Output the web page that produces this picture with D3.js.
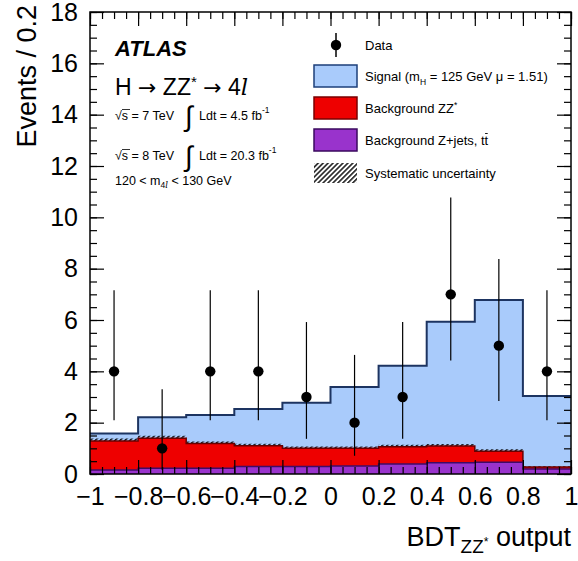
<!DOCTYPE html>
<html><head><meta charset="utf-8">
<script src="https://cdn.jsdelivr.net/npm/d3@7/dist/d3.min.js"></script>
<style>
body{margin:0;background:#fff;}
svg text{font-family:"Liberation Sans",Arial,Helvetica,sans-serif;fill:#000;}
</style></head>
<body><svg id="c" width="578" height="561"></svg>
<script>
// ---- data ----
const binEdges = [-1,-0.8,-0.6,-0.4,-0.2,0,0.2,0.4,0.6,0.8,1];
const xTickLabels = ["-1","-0.8","-0.6","-0.4","-0.2","0","0.2","0.4","0.6","0.8","1"];
const yTickLabels = [0,2,4,6,8,10,12,14,16,18];
const bkgZjets = [0.16,0.22,0.22,0.29,0.29,0.31,0.39,0.44,0.46,0.19];
const bkgZZ    = [1.13,1.17,0.97,0.81,0.71,0.69,0.67,0.65,0.43,0.08];
const signal   = [0.29,0.82,1.11,1.43,1.78,2.39,3.16,4.84,5.89,2.77];
const bkgSyst  = [0.09,0.10,0.08,0.08,0.07,0.07,0.08,0.08,0.07,0.03];
const dataVals = [4,1,4,4,3,2,3,7,5,4];
const dataErrLow  = [1.91,0.83,1.91,1.91,1.63,1.29,1.63,2.58,2.16,1.91];
const dataErrHigh = [3.16,2.30,3.16,3.16,2.92,2.64,2.92,3.77,3.38,3.16];

const svg = d3.select("#c");
const L=90,R=571,T=12,B=474;
const x = d3.scaleLinear().domain([-1,1]).range([L,R]);
const y = d3.scaleLinear().domain([0,18]).range([B,T]);

const defs = svg.append("defs");
const pat = defs.append("pattern").attr("id","hatch").attr("patternUnits","userSpaceOnUse")
  .attr("width",3.5).attr("height",3.5).attr("patternTransform","rotate(45)");
pat.append("line").attr("x1",0.8).attr("y1",0).attr("x2",0.8).attr("y2",3.5).attr("stroke","#000").attr("stroke-width",1.4);

const nb = dataVals.length;
const bins = d3.range(nb).map(i=>{
  const zj=bkgZjets[i], zz=zj+bkgZZ[i], tot=zz+signal[i];
  return {x0:binEdges[i],x1:binEdges[i+1],zj,zz,tot,syst:bkgSyst[i]};
});
function steps(acc){
  const pts=[];
  bins.forEach(b=>{pts.push([b.x0,acc(b)]);pts.push([b.x1,acc(b)]);});
  return pts;
}
function areaPath(acc){
  return d3.area().x(d=>x(d[0])).y0(y(0)).y1(d=>y(d[1]))(steps(acc));
}
function linePath(acc){
  return d3.line().x(d=>x(d[0])).y(d=>y(d[1]))(steps(acc));
}
const g = svg.append("g");
g.append("path").attr("d",areaPath(b=>b.tot)).attr("fill","#a9cbfb");
g.append("path").attr("d",linePath(b=>b.tot)).attr("fill","none").attr("stroke","#1d3461").attr("stroke-width",2);
g.append("path").attr("d",areaPath(b=>b.zz)).attr("fill","#ee0000");
const bandPts=[];bins.forEach(b=>{bandPts.push([b.x0,b.zz,b.syst]);bandPts.push([b.x1,b.zz,b.syst]);});
g.append("path").attr("d",d3.area().x(d=>x(d[0])).y0(d=>y(d[1])).y1(d=>y(d[1]+d[2]))(bandPts)).attr("fill","url(#hatch)");
g.append("path").attr("d",linePath(b=>b.zz)).attr("fill","none").attr("stroke","#6a0000").attr("stroke-width",1.5);
g.append("path").attr("d",areaPath(b=>b.zj)).attr("fill","#9933cc");
g.append("path").attr("d",linePath(b=>b.zj)).attr("fill","none").attr("stroke","#3f0b66").attr("stroke-width",1.5);

// data
const centers = d3.range(nb).map(i=>(binEdges[i]+binEdges[i+1])/2);
const dg = svg.append("g");
d3.range(nb).forEach(i=>{
  dg.append("line").attr("x1",x(centers[i])).attr("x2",x(centers[i]))
    .attr("y1",y(dataVals[i]-dataErrLow[i])).attr("y2",y(dataVals[i]+dataErrHigh[i]))
    .attr("stroke","#000").attr("stroke-width",1.2);
  dg.append("circle").attr("cx",x(centers[i])).attr("cy",y(dataVals[i])).attr("r",5.2).attr("fill","#000");
});

// axes
const fs=25;
function styleAxis(sel){sel.select(".domain").remove();sel.selectAll("line").attr("stroke","#000").attr("stroke-width",1.2);}
const minorX = d3.range(-1,1.0001,0.05);
const minorY = d3.range(0,18.0001,0.5);
svg.append("g").attr("transform",`translate(0,${B})`).call(d3.axisBottom(x).tickValues(minorX).tickSize(-7).tickFormat("")).call(styleAxis);
svg.append("g").attr("transform",`translate(0,${T})`).call(d3.axisTop(x).tickValues(minorX).tickSize(-7).tickFormat("")).call(styleAxis);
svg.append("g").attr("transform",`translate(${L},0)`).call(d3.axisLeft(y).tickValues(minorY).tickSize(-7).tickFormat("")).call(styleAxis);
svg.append("g").attr("transform",`translate(${R},0)`).call(d3.axisRight(y).tickValues(minorY).tickSize(-7).tickFormat("")).call(styleAxis);
const xb = svg.append("g").attr("transform",`translate(0,${B})`)
  .call(d3.axisBottom(x).tickValues(binEdges).tickSize(-14).tickPadding(13).tickFormat((d,i)=>xTickLabels[i].replace("-","\u2212")));
xb.call(styleAxis); xb.selectAll("text").attr("font-size",fs).attr("font-family","Liberation Sans, Arial");
svg.append("g").attr("transform",`translate(0,${T})`).call(d3.axisTop(x).tickValues(binEdges).tickSize(-14).tickFormat("")).call(styleAxis);
const yl = svg.append("g").attr("transform",`translate(${L},0)`)
  .call(d3.axisLeft(y).tickValues(yTickLabels).tickSize(-14).tickPadding(12).tickFormat(d=>String(d)));
yl.call(styleAxis); yl.selectAll("text").attr("font-size",fs).attr("font-family","Liberation Sans, Arial");
svg.append("g").attr("transform",`translate(${R},0)`).call(d3.axisRight(y).tickValues(yTickLabels).tickSize(-14).tickFormat("")).call(styleAxis);
svg.append("rect").attr("x",L).attr("y",T).attr("width",R-L).attr("height",B-T).attr("fill","none").attr("stroke","#000").attr("stroke-width",1.5);

// axis titles
const xfs=27;
const xt = svg.append("text").attr("x",R).attr("y",546).attr("text-anchor","end").attr("font-size",xfs);
xt.append("tspan").text("BDT");
xt.append("tspan").attr("font-size",xfs*0.7).attr("dy",7).text("ZZ");
xt.append("tspan").attr("font-size",xfs*0.45).attr("dy",-7).text("*");
xt.append("tspan").attr("dy",0).text(" output");
svg.append("text").attr("transform",`translate(36,${T-7}) rotate(-90)`).attr("text-anchor","end").attr("font-size",27).text("Events / 0.2");

// top-left texts
svg.append("text").attr("x",115).attr("y",56).attr("font-size",22).attr("font-weight","bold").attr("font-style","italic").text("ATLAS");
const h = svg.append("text").attr("x",115).attr("y",95).attr("font-size",23);
h.append("tspan").text("H ");
h.append("tspan").attr("font-family","DejaVu Sans").attr("font-size",22).text("\u2192");
h.append("tspan").text(" ZZ");
h.append("tspan").attr("font-size",15).attr("dy",-8).text("*");
h.append("tspan").attr("dy",8).text(" ");
h.append("tspan").attr("font-family","DejaVu Sans").attr("font-size",22).text("\u2192");
h.append("tspan").text(" 4");
h.append("tspan").attr("font-family","DejaVu Serif, serif").attr("font-style","italic").text("l");
function lumiRow(yb, sq, lumi){
  const t = svg.append("text").attr("x",115).attr("y",yb).attr("font-size",12.5);
  t.append("tspan").text("\u221As = "+sq+" TeV  ");
  svg.append("line").attr("x1",122).attr("x2",130).attr("y1",yb-10.5).attr("y2",yb-10.5).attr("stroke","#000").attr("stroke-width",0.8);
  svg.append("text").attr("x",185).attr("y",yb+6).attr("font-size",28).attr("font-family","DejaVu Sans").text("\u222B");
  const t2 = svg.append("text").attr("x",199).attr("y",yb).attr("font-size",12.5);
  t2.append("tspan").text("Ldt = "+lumi+" fb");
  t2.append("tspan").attr("font-size",8.5).attr("dy",-7).text("-1");
}
lumiRow(120,"7","4.5");
lumiRow(160,"8","20.3");
const mt = svg.append("text").attr("x",115).attr("y",185).attr("font-size",12.5);
mt.append("tspan").text("120 < m");
mt.append("tspan").attr("font-size",8.5).attr("dy",3).text("4");
mt.append("tspan").attr("font-size",8.5).attr("font-family","DejaVu Serif, serif").attr("font-style","italic").text("l");
mt.append("tspan").attr("dy",-3).text(" < 130 GeV");

// legend
const legY = [45,76,108,140,173];
const lx0=314, lx1=357, tx=365, lfs=13;
svg.append("line").attr("x1",336).attr("x2",336).attr("y1",legY[0]-12).attr("y2",legY[0]+12).attr("stroke","#000").attr("stroke-width",1.5);
svg.append("circle").attr("cx",336).attr("cy",legY[0]).attr("r",5.2).attr("fill","#000");
const boxes=[["#a9cbfb","#1d3f7a"],["#ee0000","#7a0000"],["#9933cc","#3a0a5e"]];
boxes.forEach((c,i)=>{
  svg.append("rect").attr("x",lx0).attr("y",legY[i+1]-11).attr("width",lx1-lx0).attr("height",22)
    .attr("fill",c[0]).attr("stroke",c[1]).attr("stroke-width",1.5);
});
svg.append("rect").attr("x",lx0).attr("y",legY[4]-10).attr("width",lx1-lx0).attr("height",20).attr("fill","url(#hatch)");
function legText(i){return svg.append("text").attr("x",tx).attr("y",legY[i]+4.5).attr("font-size",lfs);}
legText(0).text("Data");
const s1=legText(1); s1.append("tspan").text("Signal (m"); s1.append("tspan").attr("font-size",8.5).attr("dy",4).text("H");
s1.append("tspan").attr("dy",-4).text(" = 125 GeV \u03BC = 1.51)");
const s2=legText(2); s2.append("tspan").text("Background ZZ"); s2.append("tspan").attr("font-size",8.5).attr("dy",-5).text("*");
const s3=legText(3); s3.text("Background Z+jets, tt");
const s3w = s3.node().getComputedTextLength();
const tw = s3.node().getSubStringLength(19,1);
svg.append("line").attr("x1",tx+s3w-tw+0.5).attr("x2",tx+s3w-0.5).attr("y1",legY[3]-6.5).attr("y2",legY[3]-6.5)
  .attr("stroke","#000").attr("stroke-width",0.9);
legText(4).text("Systematic uncertainty");
</script></body></html>
